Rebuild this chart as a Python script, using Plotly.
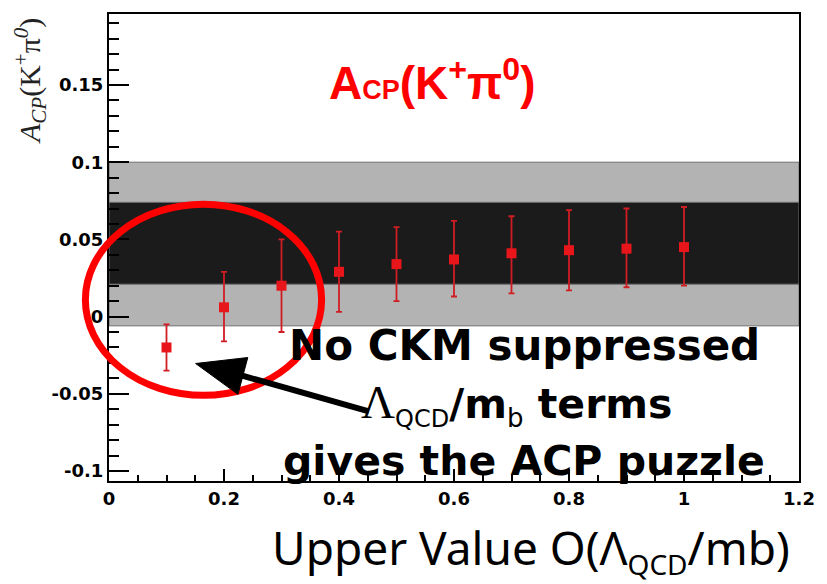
import plotly.graph_objects as go

# ---- data ----
x_vals = [0.1, 0.2, 0.3, 0.4, 0.5, 0.6, 0.7, 0.8, 0.9, 1.0]
acp = [-0.020, 0.006, 0.020, 0.029, 0.034, 0.037, 0.041, 0.043, 0.044, 0.045]
acp_upper = [-0.005, 0.029, 0.050, 0.055, 0.058, 0.062, 0.065, 0.069, 0.070, 0.071]
acp_lower = [-0.035, -0.016, -0.010, 0.003, 0.010, 0.013, 0.015, 0.017, 0.019, 0.020]
band_outer = [-0.006, 0.100]   # light grey experimental band
band_inner = [0.021, 0.074]    # dark band
x_ticks = [0, 0.2, 0.4, 0.6, 0.8, 1.0, 1.2]
x_ticklabels = ["0", "0.2", "0.4", "0.6", "0.8", "1", "1.2"]
y_ticks = [-0.1, -0.05, 0, 0.05, 0.1, 0.15]
y_ticklabels = ["-0.1", "-0.05", "0", "0.05", "0.1", "0.15"]
x_range = [0, 1.2]
y_range = [-0.1065, 0.196]

W, H = 827, 584
ML, MR, MT, MB = 109, 17, 12, 103
PW, PH = W - ML - MR, H - MT - MB


def px(x):
    return (x - ML) / PW


def py(y):
    return (H - MB - y) / PH


err_plus = [u - v for u, v in zip(acp_upper, acp)]
err_minus = [v - l for v, l in zip(acp, acp_lower)]

fig = go.Figure()
fig.add_trace(go.Scatter(
    x=x_vals, y=acp, mode="markers",
    marker=dict(symbol="square", size=10, color="#e8161b"),
    error_y=dict(type="data", array=err_plus, arrayminus=err_minus,
                 color="#d01d24", thickness=1.8, width=3),
    showlegend=False, hoverinfo="skip",
))

shapes = [
    dict(type="rect", xref="x domain", yref="y", x0=0, x1=1,
         y0=band_outer[0], y1=band_outer[1], fillcolor="#b3b3b3",
         line=dict(color="#6e6e6e", width=1), layer="below"),
    dict(type="rect", xref="x domain", yref="y", x0=0, x1=1,
         y0=band_inner[0], y1=band_inner[1], fillcolor="#1b1b1b",
         line=dict(color="#6e6e6e", width=1), layer="below"),
    # red ellipse
    dict(type="circle", xref="paper", yref="paper",
         x0=px(85), x1=px(325), y0=py(395), y1=py(203),
         line=dict(color="#ff0000", width=7), layer="above"),
    # arrow shaft
    dict(type="line", xref="paper", yref="paper",
         x0=px(373), y0=py(411), x1=px(240), y1=py(374),
         line=dict(color="black", width=6), layer="above"),
    # arrow head
    dict(type="path", xref="paper", yref="paper",
         path="M{},{} L{},{} L{},{} Z".format(px(197), py(363), px(250), py(357),
                                              px(240), py(394)),
         fillcolor="black", line=dict(color="black", width=1), layer="above"),
]

big = dict(family="DejaVu Sans", size=41, color="black")
annotations = [
    dict(text="<b>No CKM suppressed</b>", xref="paper", yref="paper",
         x=px(531), y=py(345), xanchor="center", yanchor="middle",
         showarrow=False, font=dict(family="DejaVu Sans", size=42, color="black")),
    dict(text="<span style='font-family:Liberation Serif;font-size:47px'>Λ</span>"
              "<sub><span style='font-size:24px'>QCD</span></sub>"
              "<b>/m</b><sub><span style='font-size:26px'>b</span></sub><b> terms</b>",
         xref="paper", yref="paper",
         x=px(523), y=py(404), xanchor="center", yanchor="middle",
         showarrow=False, font=big),
    dict(text="<b>gives the ACP puzzle</b>", xref="paper", yref="paper",
         x=px(531), y=py(461), xanchor="center", yanchor="middle",
         showarrow=False, font=big),
    dict(text="<b>A<span style='font-size:27px'>CP</span>(K<sup>+</sup>π<sup>0</sup>)</b>",
         xref="paper", yref="paper", x=px(438), y=py(78),
         xanchor="center", yanchor="middle", showarrow=False,
         font=dict(family="Liberation Sans", size=46, color="#ff0000")),
    dict(text="<i>A</i><sub><i>CP</i></sub>(K<sup>+</sup>π<sup><i>0</i></sup>)",
         xref="paper", yref="paper", x=px(29), y=py(79), textangle=-90,
         xanchor="center", yanchor="middle", showarrow=False,
         font=dict(family="Liberation Serif", size=30, color="#222222")),
    dict(text="Upper Value O(Λ<sub><span style='font-size:28px'>QCD</span></sub>/mb)",
         xref="paper", yref="paper",
         x=px(538), y=py(550), xanchor="center", yanchor="middle",
         showarrow=False,
         font=dict(family="Noto Sans", size=46, color="black")),
]

tickfont = dict(family="DejaVu Sans", size=18, color="black", weight="bold")

fig.update_layout(
    width=W, height=H,
    margin=dict(l=ML, r=MR, t=MT, b=MB),
    paper_bgcolor="white", plot_bgcolor="white",
    shapes=shapes, annotations=annotations,
    xaxis=dict(range=x_range, tickmode="array", tickvals=x_ticks,
               ticktext=x_ticklabels, ticks="inside", ticklen=12, tickwidth=2,
               tickcolor="black", showline=True, linecolor="black", linewidth=2,
               mirror=True, showgrid=False, zeroline=False, tickfont=tickfont,
               minor=dict(tickmode="linear", tick0=0, dtick=0.05, ticks="inside",
                          ticklen=6, tickwidth=2, tickcolor="black", showgrid=False)),
    yaxis=dict(range=y_range, tickmode="array", tickvals=y_ticks,
               ticktext=y_ticklabels, ticks="inside", ticklen=20, tickwidth=2,
               tickcolor="black", showline=True, linecolor="black", linewidth=2,
               mirror=True, showgrid=False, zeroline=False, tickfont=tickfont,
               minor=dict(tickmode="linear", tick0=0, dtick=0.01, ticks="inside",
                          ticklen=10, tickwidth=2, tickcolor="black", showgrid=False)),
)

fig.write_html("out.html",
               config={"displayModeBar": False},
               post_script="document.body.style.margin='0';"
                           "document.body.style.overflow='hidden';")
